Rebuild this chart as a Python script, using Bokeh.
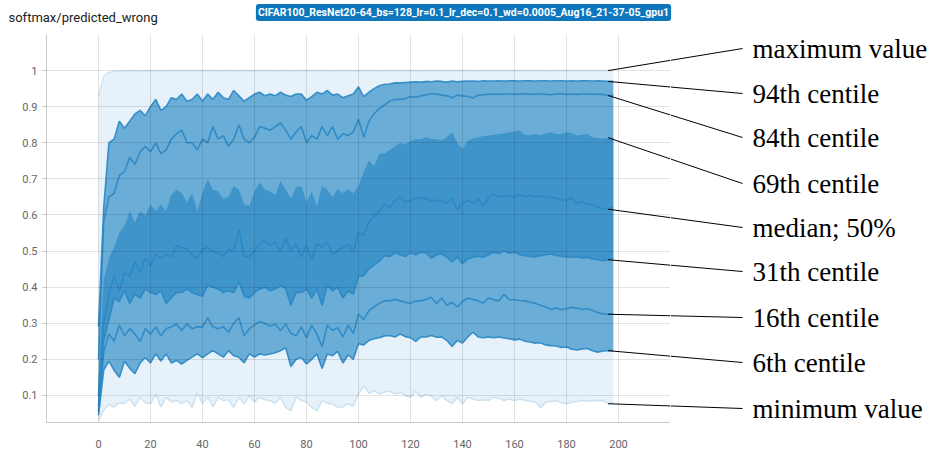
from bokeh.plotting import figure
from bokeh.models import Range1d, FixedTicker, NumeralTickFormatter, Label, ColumnDataSource
from bokeh.layouts import column, row
from bokeh.core.properties import value
from bokeh.embed import file_html
from bokeh.resources import INLINE

# ---------------- data ----------------
steps = list(range(0, 200, 2))

max_value = [
    0.930, 0.985, 0.995, 0.998, 0.999, 0.998, 1.000, 0.999, 0.999, 1.000,
    0.999, 1.000, 0.999, 1.000, 1.000, 0.999, 1.000, 1.000, 0.999, 1.000,
    1.000, 0.999, 1.000, 1.000, 0.999, 1.000, 1.000, 0.999, 1.000, 1.000,
    0.999, 1.000, 1.000, 1.000, 0.999, 1.000, 1.000, 0.999, 1.000, 1.000,
    1.000, 0.999, 1.000, 1.000, 1.000, 0.999, 1.000, 1.000, 1.000, 0.999,
    1.000, 1.000, 1.000, 1.000, 0.999, 1.000, 1.000, 1.000, 1.000, 1.000,
    1.000, 1.000, 0.999, 1.000, 1.000, 1.000, 1.000, 1.000, 1.000, 1.000,
    1.000, 1.000, 1.000, 0.999, 1.000, 1.000, 1.000, 1.000, 1.000, 1.000,
    1.000, 1.000, 1.000, 1.000, 1.000, 1.000, 0.999, 1.000, 1.000, 1.000,
    1.000, 1.000, 1.000, 1.000, 1.000, 1.000, 1.000, 1.000, 1.000, 1.000,
]
p94 = [
    0.29, 0.62, 0.80, 0.81, 0.86, 0.84, 0.86, 0.88, 0.89, 0.875,
    0.90, 0.92, 0.89, 0.90, 0.925, 0.92, 0.935, 0.915, 0.92, 0.935,
    0.915, 0.935, 0.92, 0.94, 0.925, 0.92, 0.945, 0.93, 0.915, 0.925,
    0.935, 0.94, 0.93, 0.935, 0.93, 0.94, 0.932, 0.928, 0.935, 0.935,
    0.918, 0.928, 0.94, 0.935, 0.945, 0.932, 0.935, 0.925, 0.93, 0.935,
    0.955, 0.928, 0.94, 0.95, 0.958, 0.962, 0.963, 0.966, 0.966, 0.967,
    0.968, 0.969, 0.968, 0.970, 0.969, 0.971, 0.970, 0.968, 0.971, 0.969,
    0.970, 0.971, 0.971, 0.970, 0.972, 0.971, 0.971, 0.972, 0.971, 0.972,
    0.972, 0.971, 0.972, 0.972, 0.971, 0.972, 0.972, 0.971, 0.972, 0.972,
    0.971, 0.972, 0.971, 0.972, 0.972, 0.971, 0.972, 0.971, 0.970, 0.970,
]
p84 = [
    0.20, 0.58, 0.65, 0.66, 0.71, 0.72, 0.76, 0.74, 0.775, 0.79,
    0.775, 0.80, 0.77, 0.78, 0.81, 0.825, 0.835, 0.80, 0.80, 0.78,
    0.81, 0.80, 0.845, 0.81, 0.82, 0.79, 0.81, 0.85, 0.81, 0.80,
    0.815, 0.845, 0.84, 0.835, 0.845, 0.855, 0.835, 0.81, 0.83, 0.845,
    0.80, 0.82, 0.81, 0.845, 0.82, 0.845, 0.81, 0.825, 0.82, 0.83,
    0.865, 0.815, 0.86, 0.88, 0.895, 0.905, 0.915, 0.92, 0.92, 0.922,
    0.928, 0.926, 0.93, 0.933, 0.935, 0.935, 0.932, 0.93, 0.925, 0.932,
    0.93, 0.928, 0.924, 0.932, 0.933, 0.934, 0.935, 0.934, 0.935, 0.935,
    0.934, 0.935, 0.936, 0.934, 0.935, 0.935, 0.934, 0.933, 0.935, 0.936,
    0.934, 0.935, 0.934, 0.935, 0.935, 0.934, 0.935, 0.934, 0.931, 0.932,
]
p69 = [
    0.15, 0.42, 0.48, 0.51, 0.55, 0.57, 0.61, 0.58, 0.61, 0.60,
    0.63, 0.61, 0.63, 0.61, 0.655, 0.67, 0.66, 0.635, 0.66, 0.61,
    0.66, 0.70, 0.67, 0.665, 0.645, 0.65, 0.68, 0.67, 0.63, 0.625,
    0.665, 0.69, 0.67, 0.665, 0.655, 0.695, 0.67, 0.645, 0.677, 0.68,
    0.635, 0.665, 0.625, 0.68, 0.67, 0.65, 0.672, 0.66, 0.672, 0.66,
    0.68, 0.72, 0.75, 0.735, 0.77, 0.77, 0.78, 0.79, 0.80, 0.795,
    0.805, 0.81, 0.81, 0.815, 0.81, 0.81, 0.806, 0.815, 0.829, 0.80,
    0.783, 0.806, 0.812, 0.815, 0.818, 0.82, 0.822, 0.824, 0.826, 0.829,
    0.832, 0.834, 0.822, 0.82, 0.824, 0.82, 0.826, 0.829, 0.824, 0.824,
    0.829, 0.827, 0.82, 0.822, 0.824, 0.815, 0.813, 0.811, 0.814, 0.815,
]
p50 = [
    0.10, 0.30, 0.38, 0.43, 0.39, 0.44, 0.43, 0.47, 0.44, 0.48,
    0.46, 0.49, 0.48, 0.49, 0.485, 0.515, 0.51, 0.505, 0.49, 0.48,
    0.505, 0.51, 0.50, 0.495, 0.485, 0.505, 0.50, 0.56, 0.485, 0.485,
    0.50, 0.52, 0.53, 0.515, 0.525, 0.50, 0.535, 0.50, 0.52, 0.483,
    0.515, 0.475, 0.52, 0.51, 0.525, 0.49, 0.50, 0.51, 0.518, 0.50,
    0.55, 0.545, 0.58, 0.595, 0.61, 0.63, 0.62, 0.64, 0.65, 0.635,
    0.64, 0.648, 0.648, 0.645, 0.64, 0.64, 0.64, 0.632, 0.645, 0.615,
    0.632, 0.64, 0.632, 0.644, 0.625, 0.648, 0.658, 0.65, 0.652, 0.652,
    0.65, 0.656, 0.65, 0.654, 0.65, 0.652, 0.652, 0.649, 0.646, 0.643,
    0.64, 0.648, 0.632, 0.638, 0.628, 0.63, 0.622, 0.618, 0.616, 0.621,
]
p31 = [
    0.07, 0.25, 0.31, 0.37, 0.36, 0.39, 0.355, 0.38, 0.37, 0.395,
    0.385, 0.38, 0.39, 0.355, 0.37, 0.385, 0.385, 0.395, 0.385, 0.38,
    0.375, 0.405, 0.40, 0.395, 0.385, 0.39, 0.385, 0.415, 0.375, 0.37,
    0.385, 0.395, 0.40, 0.39, 0.395, 0.405, 0.395, 0.35, 0.385, 0.385,
    0.395, 0.37, 0.395, 0.35, 0.405, 0.39, 0.40, 0.37, 0.39, 0.38,
    0.43, 0.432, 0.45, 0.462, 0.472, 0.487, 0.485, 0.495, 0.49, 0.485,
    0.495, 0.49, 0.497, 0.495, 0.48, 0.49, 0.492, 0.483, 0.47, 0.483,
    0.465, 0.478, 0.483, 0.486, 0.483, 0.49, 0.497, 0.493, 0.501, 0.494,
    0.497, 0.49, 0.487, 0.485, 0.484, 0.487, 0.49, 0.492, 0.488, 0.486,
    0.484, 0.483, 0.485, 0.481, 0.483, 0.478, 0.476, 0.473, 0.476, 0.479,
]
p16 = [
    0.055, 0.22, 0.27, 0.25, 0.295, 0.265, 0.285, 0.27, 0.25, 0.285,
    0.27, 0.29, 0.265, 0.285, 0.29, 0.298, 0.28, 0.298, 0.285, 0.29,
    0.29, 0.315, 0.29, 0.285, 0.29, 0.275, 0.30, 0.315, 0.265, 0.285,
    0.295, 0.305, 0.30, 0.292, 0.298, 0.28, 0.298, 0.272, 0.265, 0.29,
    0.26, 0.295, 0.27, 0.235, 0.295, 0.28, 0.288, 0.262, 0.295, 0.272,
    0.325, 0.31, 0.335, 0.345, 0.355, 0.362, 0.362, 0.366, 0.362, 0.358,
    0.355, 0.362, 0.362, 0.366, 0.372, 0.355, 0.37, 0.35, 0.358, 0.345,
    0.36, 0.37, 0.366, 0.362, 0.356, 0.37, 0.365, 0.362, 0.38, 0.365,
    0.365, 0.363, 0.362, 0.358, 0.355, 0.35, 0.345, 0.338, 0.342, 0.338,
    0.34, 0.344, 0.342, 0.338, 0.34, 0.335, 0.33, 0.326, 0.325, 0.326,
]
p6 = [
    0.045, 0.17, 0.195, 0.17, 0.15, 0.195, 0.175, 0.16, 0.19, 0.205,
    0.19, 0.215, 0.195, 0.215, 0.19, 0.197, 0.187, 0.197, 0.206, 0.215,
    0.205, 0.215, 0.224, 0.215, 0.206, 0.224, 0.21, 0.206, 0.19, 0.215,
    0.206, 0.215, 0.212, 0.215, 0.218, 0.224, 0.232, 0.18, 0.20, 0.205,
    0.187, 0.20, 0.215, 0.175, 0.215, 0.21, 0.222, 0.19, 0.212, 0.20,
    0.243, 0.24, 0.252, 0.257, 0.26, 0.265, 0.266, 0.262, 0.27, 0.263,
    0.26, 0.25, 0.262, 0.262, 0.266, 0.261, 0.262, 0.252, 0.236, 0.252,
    0.245, 0.262, 0.275, 0.262, 0.26, 0.262, 0.26, 0.262, 0.259, 0.257,
    0.254, 0.256, 0.25, 0.248, 0.245, 0.246, 0.24, 0.238, 0.237, 0.233,
    0.234, 0.228, 0.226, 0.229, 0.23, 0.224, 0.22, 0.223, 0.224, 0.224,
]
min_value = [
    0.030, 0.060, 0.075, 0.068, 0.080, 0.077, 0.090, 0.070, 0.095, 0.080,
    0.077, 0.104, 0.068, 0.095, 0.082, 0.086, 0.077, 0.086, 0.067, 0.108,
    0.078, 0.095, 0.068, 0.094, 0.086, 0.088, 0.067, 0.095, 0.076, 0.100,
    0.082, 0.095, 0.088, 0.086, 0.078, 0.095, 0.066, 0.058, 0.095, 0.086,
    0.082, 0.067, 0.058, 0.086, 0.078, 0.077, 0.067, 0.068, 0.077, 0.070,
    0.104, 0.127, 0.106, 0.113, 0.104, 0.109, 0.112, 0.104, 0.109, 0.100,
    0.095, 0.112, 0.095, 0.104, 0.098, 0.086, 0.099, 0.086, 0.077, 0.095,
    0.077, 0.095, 0.090, 0.086, 0.088, 0.086, 0.095, 0.092, 0.086, 0.090,
    0.086, 0.090, 0.086, 0.084, 0.081, 0.067, 0.081, 0.083, 0.086, 0.080,
    0.077, 0.081, 0.083, 0.086, 0.084, 0.086, 0.085, 0.086, 0.077, 0.080,
]

x_ticks = [-20, 0, 20, 40, 60, 80, 100, 120, 140, 160, 180, 200, 220]
y_ticks = [0.1, 0.2, 0.3, 0.4, 0.5, 0.6, 0.7, 0.8, 0.9, 1.0]

chart_title = "softmax/predicted_wrong"
run_name = "CIFAR100_ResNet20-64_bs=128_lr=0.1_lr_dec=0.1_wd=0.0005_Aug16_21-37-05_gpu1"
annotation_texts = ["maximum value", "94th centile", "84th centile", "69th centile",
                    "median; 50%", "31th centile", "16th centile", "6th centile", "minimum value"]
annotated_series = [max_value, p94, p84, p69, p50, p31, p16, p6, min_value]

# ---------------- layout (page pixels) ----------------
W, H = 936, 452
FL, FR, FT, FB = 46, 670, 34, 422          # chart frame edges
X0, X1 = -20, 220
Y0, Y1 = 0.025, 1.1
TEXT_X, LEAD_X = 752, 742
text_py = [48, 93, 137, 183, 227, 271, 317, 362, 408]


def dx(px):
    return X0 + (px - FL) * (X1 - X0) / (FR - FL)


def dy(py):
    return Y1 - (py - FT) * (Y1 - Y0) / (FB - FT)


def px_of(x):
    return FL + (x - X0) * (FR - FL) / (X1 - X0)


def py_of(y):
    return FT + (Y1 - y) * (FB - FT) / (Y1 - Y0)


# ---------------- header strip ----------------
head = figure(width=W, height=FT, output_backend="svg", toolbar_location=None,
              x_range=Range1d(0, W), y_range=Range1d(FT, 0),
              x_axis_type=None, y_axis_type=None,
              min_border_left=0, min_border_right=0, min_border_top=0, min_border_bottom=0)
head.outline_line_color = None
head.grid.visible = False
head.add_layout(Label(x=8, y=17, text=chart_title, text_font="Roboto",
                      text_font_size="13px", text_color="#212121", text_baseline="middle"))
head.add_layout(Label(x=463, y=12, text=run_name, text_font="Roboto",
                      text_font_size="10.5px", text_font_style="bold", text_color="white",
                      text_align="center", text_baseline="middle",
                      background_fill_color="#0d76bc", padding=2, border_radius=3))

# ---------------- chart ----------------
p = figure(width=FR, height=H - FT, output_backend="svg", toolbar_location=None,
           x_range=Range1d(X0, X1), y_range=Range1d(Y0, Y1),
           min_border_left=FL, min_border_right=0,
           min_border_top=0, min_border_bottom=H - FB)
p.outline_line_color = None

src = ColumnDataSource(dict(step=steps, mx=max_value, a94=p94, a84=p84, a69=p69,
                            a50=p50, a31=p31, a16=p16, a6=p6, mn=min_value))

p.varea(x="step", y1="mn", y2="mx", source=src, fill_color="#e6f1f9")
p.line(x="step", y="mx", source=src, line_color="#cfe3f2", line_width=1.5)
p.line(x="step", y="mn", source=src, line_color="#cde2f1", line_width=1.5)
p.varea(x="step", y1="a6", y2="a94", source=src, fill_color="#6aadd6")
p.varea(x="step", y1="a31", y2="a69", source=src, fill_color="#3f94c9")
for col in ["a94", "a84", "a50", "a31", "a16", "a6"]:
    p.line(x="step", y=col, source=src, line_color="#2a87c5", line_width=1.6, line_alpha=0.9)

p.xaxis.ticker = FixedTicker(ticks=x_ticks)
p.xaxis.major_label_overrides = {x_ticks[0]: "", x_ticks[-1]: ""}
p.yaxis.ticker = FixedTicker(ticks=y_ticks)
p.yaxis.formatter = NumeralTickFormatter(format="0.[0]")
p.axis.axis_line_color = "#c8c8c8"
p.axis.major_tick_line_color = "#c8c8c8"
p.axis.minor_tick_line_color = None
p.axis.major_label_text_font = "Roboto"
p.axis.major_label_text_font_size = "11px"
p.axis.major_label_text_color = "#666666"
p.xaxis.major_tick_out = 0
p.xaxis.major_tick_in = 0
p.xaxis.major_label_standoff = 17
p.yaxis.major_tick_out = 4
p.yaxis.major_tick_in = 0
p.yaxis.major_label_standoff = 5
p.grid.grid_line_color = "black"
p.grid.grid_line_alpha = 0.11
p.grid.level = "overlay"

# ---------------- annotation panel (frame aligned with the chart frame) ----------------
ann = figure(width=W - FR, height=H - FT, output_backend="svg", toolbar_location=None,
             x_range=Range1d(FR, W), y_range=Range1d(FB, FT),
             x_axis_type=None, y_axis_type=None,
             min_border_left=0, min_border_right=0, min_border_top=0,
             min_border_bottom=H - FB)
ann.outline_line_color = None
ann.grid.visible = False

in_x0, in_y0, in_x1, in_y1 = [], [], [], []
out_x0, out_y0, out_x1, out_y1 = [], [], [], []
for ser, py in zip(annotated_series, text_py):
    sx, sy = px_of(steps[-2]), py_of(ser[-2])
    cy = sy + (py - sy) * (FR - sx) / (LEAD_X - sx)
    in_x0.append(steps[-2]); in_y0.append(ser[-2]); in_x1.append(X1); in_y1.append(dy(cy))
    out_x0.append(FR); out_y0.append(cy); out_x1.append(LEAD_X); out_y1.append(py)

p.segment(x0=in_x0, y0=in_y0, x1=in_x1, y1=in_y1, line_color="black", line_width=1)
ann.segment(x0=out_x0, y0=out_y0, x1=out_x1, y1=out_y1, line_color="black", line_width=1)
ann.text(x=[TEXT_X] * len(text_py), y=text_py, text=annotation_texts,
         text_font=value("Liberation Serif"), text_font_size=value("27px"),
         text_color="black", text_baseline="middle", text_align="left")

layout = column(head, row(p, ann, spacing=0), spacing=0)
open("out.html", "w").write(file_html(layout, INLINE))
